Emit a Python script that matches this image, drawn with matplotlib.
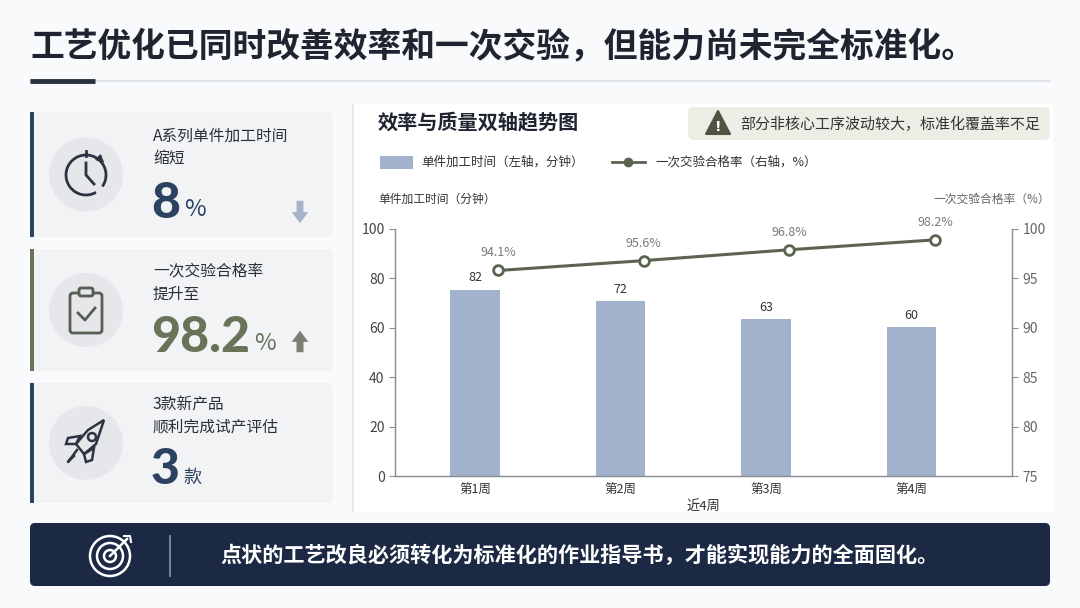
import matplotlib
matplotlib.use('Agg')
import matplotlib.pyplot as plt
from matplotlib.patches import FancyBboxPatch, Circle, Rectangle, Polygon, Arc
import numpy as np

plt.rcParams['font.family'] = ['Noto Sans CJK SC', 'DejaVu Sans']

# data
weeks = ['第1周', '第2周', '第3周', '第4周']
time_labels = [82, 72, 63, 60]            # labels printed on bars
time_heights = [75.5, 70.8, 63.5, 60.2]   # bar heights as drawn in the picture
pass_labels = ['94.1%', '95.6%', '96.8%', '98.2%']
pass_heights = [95.8, 96.8, 97.9, 98.9]   # line points as drawn in the picture

NAVY = '#2c4260'
OLIVE = '#68735a'
BAR = '#a3b2cc'
LINE = '#5b6450'
DARK = '#1f2430'

fig = plt.figure(figsize=(10.8, 6.08), dpi=100, facecolor='#f9fafb')

# overlay in pixel coordinates
bg = fig.add_axes([0, 0, 1, 1], zorder=0)
bg.set_xlim(0, 1080)
bg.set_ylim(608, 0)
bg.axis('off')

def rbox(x0, y0, x1, y1, color, pad=6, z=1, ec='none'):
    bg.add_patch(FancyBboxPatch((x0, y0), x1 - x0, y1 - y0,
                                boxstyle="round,pad=0,rounding_size=%d" % pad,
                                fc=color, ec=ec, zorder=z))

def big_number(x, y, num, unit, color, unit_size, unit_dy):
    t = bg.text(x, y, num, fontsize=36, fontweight=900, color=color, va='center',
                zorder=4, family=['Lato', 'DejaVu Sans'])
    r = fig.canvas.get_renderer()
    bb = t.get_window_extent(renderer=r)
    bg.text(bb.x1 + 4, y + unit_dy, unit, fontsize=unit_size, color=color, va='center', zorder=4)

# header
bg.text(30, 46, '工艺优化已同时改善效率和一次交验，但能力尚未完全标准化。',
        fontsize=24.3, fontweight='bold', color=DARK, va='center', ha='left')
bg.plot([30, 1050], [81, 81], color='#dcdfe4', lw=1.2)
bg.plot([30, 95], [81, 81], color='#2a3140', lw=3.5, solid_capstyle='butt')

# chart panel
bg.add_patch(Rectangle((353, 104), 700, 408, fc='#ffffff', ec='none', zorder=0.5))
bg.plot([353, 353], [104, 512], color='#e3e6ea', lw=1.2)

# KPI cards
cards = [(112, 237, NAVY), (249, 371, OLIVE), (383, 503, NAVY)]
for y0, y1, c in cards:
    rbox(33, y0, 333, y1, '#f2f3f5', pad=6)
    bg.add_patch(Rectangle((30, y0), 4, y1 - y0, fc=c, ec='none', zorder=2))
    bg.add_patch(Circle((86, (y0 + y1) / 2), 37, fc='#e5e7eb', ec='none', zorder=2))

# clock icon
cy = 175
bg.add_patch(Arc((86, cy), 40, 40, theta1=60, theta2=395, lw=2, color='#2d3340', zorder=3))
bg.plot([86, 86, 94], [cy - 12, cy, cy + 9], color='#2d3340', lw=2, zorder=3)
bg.plot([86, 86], [cy - 24, cy - 19], color='#2d3340', lw=2, zorder=3)
bg.annotate('', xy=(106, cy - 10), xytext=(100, cy - 16),
            arrowprops=dict(arrowstyle='-|>', color='#2d3340', lw=1.5), zorder=3)

# clipboard icon
cy = 310
bg.add_patch(FancyBboxPatch((70, cy - 17), 32, 40, boxstyle="round,pad=0,rounding_size=3",
                            fc='none', ec='#575d50', lw=2, zorder=3))
bg.add_patch(FancyBboxPatch((79, cy - 22), 14, 8, boxstyle="round,pad=0,rounding_size=2",
                            fc='#e5e7eb', ec='#575d50', lw=2, zorder=3))
bg.plot([78, 85, 95], [cy + 3, cy + 10, cy - 2], color='#575d50', lw=2, zorder=3)

# rocket icon
cy = 442
rocket = Polygon([(104, cy - 22), (96, cy + 2), (84, cy + 12), (76, cy + 2), (88, cy - 12)],
                 closed=True, fc='none', ec='#2d3340', lw=1.8, zorder=3)
bg.add_patch(rocket)
bg.add_patch(Circle((92, cy - 5), 4, fc='none', ec='#2d3340', lw=1.8, zorder=3))
bg.add_patch(Polygon([(80, cy - 6), (68, cy - 4), (66, cy + 2), (76, cy + 2)], closed=True,
                     fc='none', ec='#2d3340', lw=1.8, zorder=3))
bg.add_patch(Polygon([(94, cy + 6), (92, cy + 18), (86, cy + 20), (84, cy + 12)], closed=True,
                     fc='none', ec='#2d3340', lw=1.8, zorder=3))
bg.plot([77, 68, 74], [cy + 8, cy + 20, cy + 14], color='#2d3340', lw=1.8, zorder=3)

# card texts
txt = dict(fontsize=11.3, color='#2a2f38', va='center', ha='left', zorder=4)
bg.text(153, 136, 'A系列单件加工时间', **txt)
bg.text(153, 158, '缩短', **txt)
big_number(151, 203, '8', '%', NAVY, 17, 6)
bg.annotate('', xy=(300, 226), xytext=(300, 198),
            arrowprops=dict(arrowstyle='simple,head_width=1.2,head_length=0.8,tail_width=0.5',
                            fc='#a6b2c7', ec='none'), zorder=4)

bg.text(153, 272, '一次交验合格率', **txt)
bg.text(153, 294, '提升至', **txt)
big_number(151, 338, '98.2', '%', OLIVE, 17, 6)
bg.annotate('', xy=(300, 328), xytext=(300, 355),
            arrowprops=dict(arrowstyle='simple,head_width=1.2,head_length=0.8,tail_width=0.5',
                            fc='#7b7f72', ec='none'), zorder=4)

bg.text(153, 405, '3款新产品', **txt)
bg.text(153, 427, '顺利完成试产评估', **txt)
big_number(151, 470, '3', '款', NAVY, 13, 8)

# chart header
bg.text(378, 122, '效率与质量双轴趋势图', fontsize=14.5, fontweight='bold', color=DARK,
        va='center', zorder=4)
rbox(688, 107, 1050, 140, '#eeede5', pad=6, z=2)
bg.add_patch(Polygon([(718, 111), (706, 134), (730, 134)], closed=True, fc='#4e5342',
                     ec='#4e5342', lw=1.5, joinstyle='round', zorder=3))
bg.text(718, 127, '!', fontsize=10, fontweight='bold', color='white', ha='center', va='center',
        zorder=4, family=['DejaVu Sans'])
bg.text(740, 124, '部分非核心工序波动较大，标准化覆盖率不足', fontsize=10.8, color='#333333',
        va='center', zorder=4)

# legend
bg.add_patch(Rectangle((380, 156), 33, 13, fc=BAR, ec='none', zorder=3))
bg.text(421, 162, '单件加工时间（左轴，分钟）', fontsize=9, color='#333333', va='center', zorder=4)
bg.plot([612, 645], [162, 162], color=LINE, lw=2, zorder=3)
bg.plot([628], [162], 'o', color=LINE, ms=6, zorder=4)
bg.text(655, 162, '一次交验合格率（右轴，%）', fontsize=9, color='#333333', va='center', zorder=4)

bg.text(378, 199, '单件加工时间（分钟）', fontsize=8.5, color='#333333', va='center', zorder=4)
bg.text(1050, 199, '一次交验合格率（%）', fontsize=8.5, color='#666666', va='center', ha='right',
        zorder=4)

# chart axes
ax = fig.add_axes([395 / 1080, 1 - 476 / 608, 617 / 1080, 247 / 608], zorder=2)
ax.patch.set_alpha(0)
x = np.arange(len(weeks))
ax.bar(x, time_heights, width=0.34, color=BAR, zorder=2)
for xi, h, lab in zip(x, time_heights, time_labels):
    ax.annotate(str(lab), (xi, h), xytext=(0, 4), textcoords='offset points',
                ha='center', va='bottom', fontsize=9, color='#333333')
ax.set_xlim(-0.55, 3.69)
ax.set_ylim(0, 100)
ax.set_yticks([0, 20, 40, 60, 80, 100])
ax.set_xticks(x)
ax.set_xticklabels(weeks)
ax.set_xlabel('近4周', fontsize=9.5, color='#333333', labelpad=2)
ax.spines['top'].set_visible(False)
for s in ['left', 'bottom', 'right']:
    ax.spines[s].set_color('#8a8f98')
    ax.spines[s].set_linewidth(0.9)
ax.tick_params(axis='y', labelsize=10, colors='#8a8f98', labelcolor='#444444', length=4)
ax.tick_params(axis='x', labelsize=9, length=0, pad=6, labelcolor='#333333')

ax2 = ax.twinx()
ax2.set_ylim(75, 100)
ax2.set_yticks([75, 80, 85, 90, 95, 100])
ax2.spines['top'].set_visible(False)
for s in ['left', 'bottom', 'right']:
    ax2.spines[s].set_color('#8a8f98')
    ax2.spines[s].set_linewidth(0.9)
ax2.tick_params(axis='y', labelsize=10, colors='#8a8f98', labelcolor='#666666', length=4)
xl = x + 0.16
ax2.plot(xl, pass_heights, color=LINE, lw=2.2, marker='o', ms=7,
         mfc='white', mec=LINE, mew=2, zorder=3)
for xi, v, lab in zip(xl, pass_heights, pass_labels):
    ax2.annotate(lab, (xi, v), xytext=(0, 8), textcoords='offset points',
                 ha='center', va='bottom', fontsize=9, color='#7a7a7a')

# bottom banner
rbox(30, 523, 1050, 586, '#1c2944', pad=5, z=2)
for r in [20, 13, 6]:
    bg.add_patch(Circle((110, 556), r, fc='none', ec='white', lw=1.8, zorder=3))
bg.plot([110, 127], [556, 539], color='white', lw=1.8, zorder=3)
bg.plot([124, 130, 131], [536, 536, 542], color='white', lw=1.5, zorder=3)
bg.plot([170, 170], [536, 576], color='#8d97a8', lw=1.2, zorder=3)
bg.text(220, 555, '点状的工艺改良必须转化为标准化的作业指导书，才能实现能力的全面固化。',
        fontsize=15.2, fontweight='bold', color='white', va='center', zorder=4)

fig.savefig('out.png', dpi=100, facecolor=fig.get_facecolor())
